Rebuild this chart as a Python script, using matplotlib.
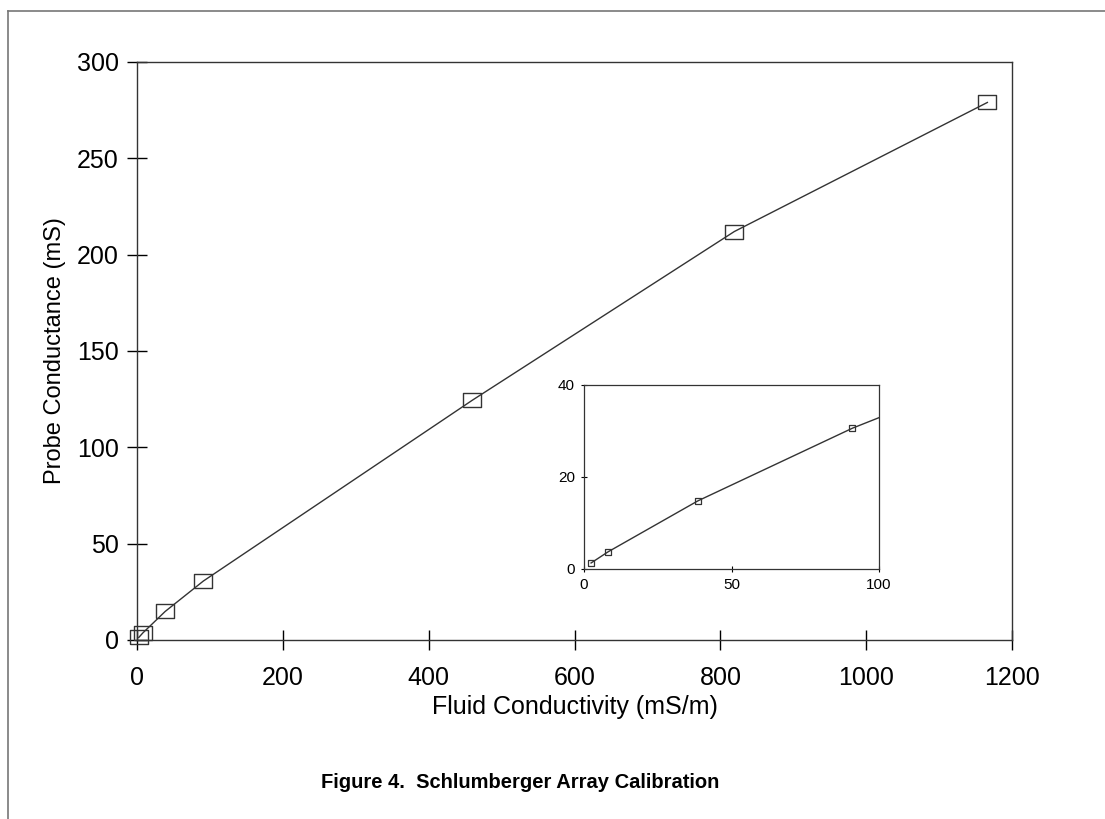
import numpy as np
import matplotlib.pyplot as plt
from matplotlib.lines import Line2D

plt.rcParams['font.family'] = ['Liberation Sans', 'DejaVu Sans']

# calibration points
fluid_cond = [2.4, 8.1, 38.6, 91.0, 460.0, 819.0, 1166.0]   # mS/m
probe_cond = [1.3, 3.7, 14.8, 30.6, 124.5, 212.0, 279.0]    # mS

main_xticks = [0, 200, 400, 600, 800, 1000, 1200]
main_yticks = [0, 50, 100, 150, 200, 250, 300]
inset_xticks = [0, 50, 100]
inset_yticks = [0, 20, 40]

# rectangular marker (scan shows boxes a bit wider than tall)
box = [(-1.35, -1), (1.35, -1), (1.35, 1), (-1.35, 1), (-1.35, -1)]

fig = plt.figure(figsize=(11.05, 8.19), dpi=100)

# page border from the scan (top and left edges)
fig.add_artist(Line2D([0.007, 1.0], [0.987, 0.987], color='#777777', lw=1.2))
fig.add_artist(Line2D([0.007, 0.007], [0.0, 0.987], color='#777777', lw=1.2))

ax = fig.add_axes([0.124, 0.2186, 0.792, 0.7057])
ax.plot(fluid_cond, probe_cond, color='#333333', lw=1.0,
        marker=box, markersize=13, markerfacecolor='none',
        markeredgecolor='#333333', markeredgewidth=1.0, clip_on=False)
ax.set_xlim(0, 1200)
ax.set_ylim(0, 300)
ax.set_xticks(main_xticks)
ax.set_yticks(main_yticks)
ax.tick_params(direction='inout', length=14, width=1, labelsize=18)
ax.tick_params(axis='x', pad=12)
ax.tick_params(axis='y', pad=6)
ax.set_xlabel('Fluid Conductivity (mS/m)', fontsize=18, labelpad=3)
ax.set_ylabel('Probe Conductance (mS)', fontsize=17, labelpad=8)
for s in ax.spines.values():
    s.set_color('#333333')
    s.set_linewidth(1.0)

# inset: zoom on the low conductivity end
axi = fig.add_axes([0.5285, 0.3053, 0.267, 0.2247])
axi.plot(fluid_cond, probe_cond, color='#333333', lw=1.0,
         marker=box, markersize=5, markerfacecolor='none',
         markeredgecolor='#333333', markeredgewidth=0.9)
axi.set_xlim(0, 100)
axi.set_ylim(0, 40)
axi.set_xticks(inset_xticks)
axi.set_yticks(inset_yticks)
axi.tick_params(direction='inout', length=5, width=0.8, labelsize=11, pad=4)
for s in axi.spines.values():
    s.set_color('#333333')
    s.set_linewidth(0.9)

fig.text(0.471, 0.045, 'Figure 4.  Schlumberger Array Calibration',
         ha='center', va='center', fontsize=14.5, fontweight='bold')

fig.savefig('out.png', dpi=100)
